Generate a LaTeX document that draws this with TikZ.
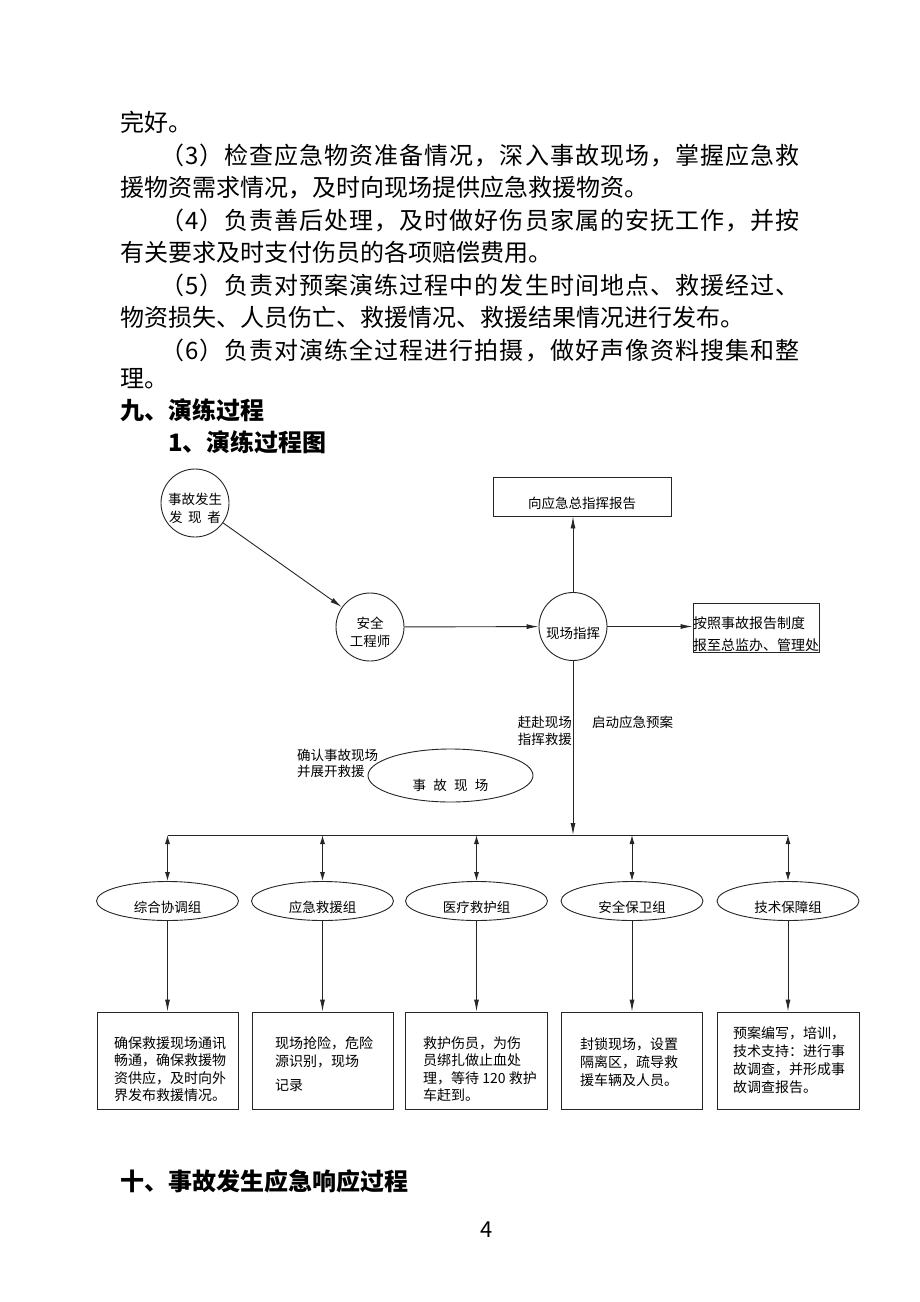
\documentclass[tikz,border=0pt]{standalone}
\usepackage{fontspec}
\setmainfont{Noto Sans CJK SC}
\usetikzlibrary{arrows.meta,shapes.geometric}
\newcommand\lowered[2]{\raisebox{-#1}[\height][\depth]{#2}}
\newcommand\bodyf{\fontsize{24}{24}\selectfont}
\newcommand\smf{\fontsize{13.5}{18}\selectfont}
\newcommand\bxf{\fontsize{14}{17.5}\selectfont}
\tikzset{
  ln/.style={line width=0.9pt, draw=black!85},
  arr/.style={ln, -{Latex[length=12pt,width=5pt]}},
  dbl/.style={ln, {Latex[length=9pt,width=5pt]}-{Latex[length=9pt,width=5pt]}},
  circ/.style={circle, ln, minimum size=68pt, inner sep=0pt, font=\smf},
  grp/.style={ellipse, ln, minimum width=142pt, minimum height=39pt, inner sep=0pt, font=\smf},
  box/.style={rectangle, ln, inner sep=0pt},
  lbl/.style={inner sep=0pt, font=\smf, text height=11.9pt, text depth=1.6pt},
  bt/.style={anchor=west, inner sep=0pt, font=\bxf, text height=12.3pt, text depth=1.7pt},
  body/.style={anchor=west, inner sep=0pt, font=\bodyf, text height=21.1pt, text depth=2.9pt},
  ind/.style={body, font=\bodyf\addfontfeature{LetterSpace=4.3}},
  head/.style={body, font=\bodyf\bfseries},
}
\begin{document}
\begin{tikzpicture}[x=1pt,y=-1pt]
\useasboundingbox (0,0) rectangle (920,1302);
\fill[white] (0,0) rectangle (920,1302);

% body text
\node[body] (t1) at (120,122) {完好。};
\node[ind]  (t2) at (160,155) {（3）检查应急物资准备情况，深入事故现场，掌握应急救};
\node[body] (t3) at (120,187) {援物资需求情况，及时向现场提供应急救援物资。};
\node[ind]  (t4) at (160,220) {（4）负责善后处理，及时做好伤员家属的安抚工作，并按};
\node[body] (t5) at (120,252) {有关要求及时支付伤员的各项赔偿费用。};
\node[ind]  (t6) at (160,285) {（5）负责对预案演练过程中的发生时间地点、救援经过、};
\node[body] (t7) at (120,317) {物资损失、人员伤亡、救援情况、救援结果情况进行发布。};
\node[ind]  (t8) at (160,350) {（6）负责对演练全过程进行拍摄，做好声像资料搜集和整};
\node[body] (t9) at (120,378) {理。};
\node[head] (h1) at (120,410) {九、演练过程};
\node[head] (h2) at (168,442) {1、演练过程图};

% top flow
\node[circ] (c1) at (195,503) {\lowered{6.5pt}{\begin{tabular}{@{}c@{}}事故发生\\\makebox[52pt][s]{发\hfill 现\hfill 者}\end{tabular}}};
\node[circ] (c2) at (370,627) {\lowered{6.5pt}{\begin{tabular}{@{}c@{}}安全\\工程师\end{tabular}}};
\node[circ] (c3) at (573,626.5) {\lowered{6.5pt}{现场指挥}};
\node[box, minimum width=178pt, minimum height=39pt, font=\smf] (rb1) at (582,496.5) {\lowered{6.5pt}{向应急总指挥报告}};
\node[box, minimum width=126pt, minimum height=49pt] (rb2) at (756,627.5) {};
\node[bt] (rb2a) at (693,623) {按照事故报告制度};
\node[bt] (rb2b) at (693,645) {报至总监办、管理处};

\draw[arr] (c1) -- (c2);
\draw[arr] (c2) -- (c3);
\draw[arr] (c3.north) -- (c3.north |- rb1.south);
\draw[arr] (c3.east) -- (rb2.west |- c3.east);

% middle
\node[lbl, anchor=east] (l1a) at (572,722) {赶赴现场};
\node[lbl, anchor=east] (l1b) at (572,739) {指挥救援};
\node[lbl, anchor=west] (l2) at (592,722) {启动应急预案};
\node[lbl, anchor=west] (l3a) at (297,755) {确认事故现场};
\node[lbl, anchor=west] (l3b) at (297,771) {并展开救援};
\node[ellipse, ln, minimum width=165pt, minimum height=53pt, inner sep=0pt, font=\smf] (ez) at (450.5,775.5)
  {\lowered{10pt}{\makebox[76pt][s]{事\hfill 故\hfill 现\hfill 场}}};

\coordinate (busL) at (167.5,835);
\coordinate (busR) at (788,835);
\draw[ln] (busL) -- (busR);
\draw[arr] (c3.south) -- (c3.south |- busL);

% groups
\node[grp] (g1) at (167.5,901) {\lowered{6pt}{综合协调组}};
\node[grp] (g2) at (322.5,901) {\lowered{6pt}{应急救援组}};
\node[grp] (g3) at (476.5,901) {\lowered{6pt}{医疗救护组}};
\node[grp] (g4) at (632,901) {\lowered{6pt}{安全保卫组}};
\node[grp] (g5) at (788,901) {\lowered{6pt}{技术保障组}};
\foreach \g in {g1,g2,g3,g4,g5}{
  \draw[dbl] (\g.north |- busL) -- (\g.north);
}

% boxes
\node[box, minimum width=141pt, minimum height=97pt] (k1) at (167.5,1060.5) {};
\node[box, minimum width=141pt, minimum height=97pt] (k2) at (322.5,1060.5) {};
\node[box, minimum width=142pt, minimum height=97pt] (k3) at (476.5,1060.5) {};
\node[box, minimum width=141pt, minimum height=97pt] (k4) at (631.5,1060.5) {};
\node[box, minimum width=142pt, minimum height=97pt] (k5) at (788,1060.5) {};
\foreach \g/\k in {g1/k1,g2/k2,g3/k3,g4/k4,g5/k5}{
  \draw[arr] (\g.south) -- (\g.south |- \k.north);
}

\node[bt] (k1a) at (114,1043) {确保救援现场通讯};
\node[bt] (k1b) at (114,1060.5) {畅通，确保救援物};
\node[bt] (k1c) at (114,1078) {资供应，及时向外};
\node[bt] (k1d) at (114,1095.5) {界发布救援情况。};

\node[bt] (k2a) at (275,1043) {现场抢险，危险};
\node[bt] (k2b) at (275,1061) {源识别，现场};
\node[bt] (k2c) at (275,1085) {记录};

\node[bt] (k3a) at (423,1043) {救护伤员，为伤};
\node[bt] (k3b) at (423,1060.5) {员绑扎做止血处};
\node[bt] (k3c) at (423,1078) {理，等待 120 救护};
\node[bt] (k3d) at (423,1095.5) {车赶到。};

\node[bt] (k4a) at (580,1044) {封锁现场，设置};
\node[bt] (k4b) at (580,1062) {隔离区，疏导救};
\node[bt] (k4c) at (580,1080) {援车辆及人员。};

\node[bt] (k5a) at (733,1033) {预案编写，培训，};
\node[bt] (k5b) at (733,1051) {技术支持：进行事};
\node[bt] (k5c) at (733,1069) {故调查，并形成事};
\node[bt] (k5d) at (733,1087) {故调查报告。};

% bottom
\node[head] (h3) at (120,1181) {十、事故发生应急响应过程};
\node[inner sep=0pt, font=\fontsize{22}{22}\selectfont] (pg) at (487,1230) {4};
\end{tikzpicture}
\end{document}
